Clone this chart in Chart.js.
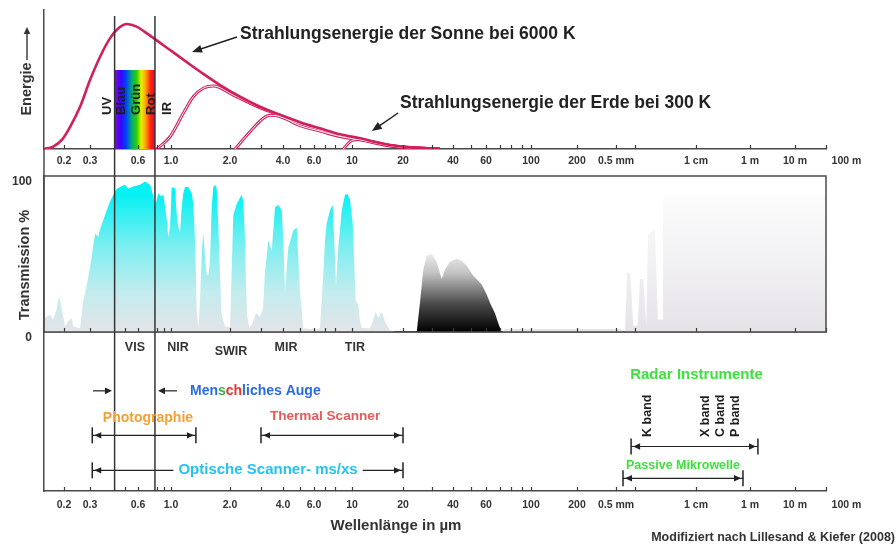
<!DOCTYPE html>
<html>
<head>
<meta charset="utf-8">
<script src="https://cdn.jsdelivr.net/npm/chart.js@4.4.1/dist/chart.umd.min.js"></script>
<style>
html,body{margin:0;padding:0;background:#fff;width:896px;height:544px;overflow:hidden}
#wrap{position:relative;width:896px;height:544px}
canvas{position:absolute;left:0;top:0}
</style>
</head>
<body>
<div id="wrap">
<canvas id="cT" width="896" height="544"></canvas>
<canvas id="cE" width="896" height="544"></canvas>
<canvas id="cB" width="896" height="544"></canvas>
</div>
<script>
// ================= DATA =================
// Non-uniform wavelength axis (µm) of the original figure: break wavelengths and their relative axis positions
const AXIS_WL  = [0.145, 0.2, 0.3, 0.6, 1, 2, 4, 6, 10, 20, 40, 60, 100, 200, 500, 1e4, 1e6, 1e7, 1e8];
const AXIS_POS = [0, 20, 46, 94, 127, 186, 239, 270, 308, 359, 409, 442, 487, 533, 572, 652, 706, 751, 782];

// tick values (µm) and labels
const TICK_WL     = [0.2, 0.3, 0.6, 1, 2, 4, 6, 10, 20, 40, 60, 100, 200, 500, 1e4, 1e6, 1e7, 1e8];
const TICK_LABELS = ['0.2','0.3','0.6','1.0','2.0','4.0','6.0','10','20','40','60','100','200','0.5 mm','1 cm','1 m','10 m','\u2007\u2007\u2007\u2007\u2007\u2007\u2007100 m'];
const MINOR_TICK_WL = [0.5, 0.8, 0.9, 3, 5, 7, 8, 30, 50, 70, 80, 90, 1000];

// Radiant energy curves (relative energy)
const SUN_WL = [0.145,0.168,0.193,0.22,0.257,0.3,0.347,0.4,0.452,0.51,0.589,0.687,0.723,0.985,1.25,1.41,1.78,2.28,2.96,3.85,5.0,6.5,8.51,11.2,12.8,16.8,22.0,29.1,33.4];
const SUN_E  = [0,1.7,6.5,16,30.4,49.6,66.4,79.6,86.8,89.9,88,83.2,81.6,71.2,60.8,55.6,46,37.6,30.4,24.6,19.3,14.9,10.6,7.7,6,2.9,1.2,0.5,0];
const CURVE2_WL = [0.8015,0.985,1.155,1.299,1.461,1.644,2.088,2.713,3.524,4.995,6.504,8.51,11.15,16.76,22.03,29.08,33.4];
const CURVE2_E  = [0,8.8,25.7,37.6,43.7,45.3,38.8,31.8,25.8,18.1,13.9,9.8,7.1,2.5,1,0.3,0];
const CURVE3_WL = [2.135,2.598,3.092,3.375,3.846,4.995,6.504,8.51,11.15,16.76,22.03,29.08,33.4];
const CURVE3_E  = [0,12.4,22.1,24.2,23.3,16.8,12.9,9.0,6.6,2.2,0.8,0.2,0];
const CURVE4_WL = [8.898,9.734,10.18,11.15,12.77,16.76,22.03,29.08,33.4];
const CURVE4_E  = [0,5.3,6.5,6.9,5.5,2.6,1.0,0.3,0];

// visible range (µm) and colour bands
const EYE_RANGE = [0.428, 0.78];
const BAND_LABELS = ['UV','Blau','Grün','Rot','IR'];
const BAND_WL     = [0.384, 0.469, 0.583, 0.734, 0.94];

// atmospheric transmission (%)
const TRANS_WL  = [0.147,0.160,0.168,0.178,0.185,0.193,0.203,0.214,0.226,0.231,0.257,0.270,0.285,0.300,0.315,0.323,0.338,0.347,0.364,0.382,0.400,0.420,0.441,0.463,0.497,0.522,0.561,0.619,0.669,0.723,0.761,0.781,0.802,0.821,0.853,0.888,0.911,0.936,0.959,0.985,1.008,1.027,1.048,1.069,1.090,1.112,1.134,1.155,1.179,1.225,1.275,1.299,1.326,1.352,1.378,1.406,1.434,1.461,1.491,1.521,1.550,1.581,1.613,1.644,1.677,1.711,1.743,1.778,1.814,1.886,2.000,2.045,2.088,2.183,2.279,2.331,2.380,2.434,2.466,2.508,2.574,2.667,2.810,2.961,3.080,3.162,3.301,3.451,3.603,3.762,3.933,4.016,4.106,4.287,4.577,4.785,4.887,4.995,5.216,5.692,6.331,6.504,6.798,6.956,7.117,7.439,7.715,7.904,8.065,8.318,8.709,9.101,9.413,9.734,10.10,10.28,10.51,10.89,11.15,11.46,12.77,13.36,13.80,14.30,14.97,15.66,16.76,17.94];
const TRANS_PCT = [9,11,8,15,23,15,3.5,7,9,3.5,2.4,20,30,41,56,63,61,66,72,78,83.5,88,91.6,93,94.4,92,93.3,94.4,96.5,94.4,87,80,85,89,87,88,81,72,61,67,92,93,92,76,67,64,80,89,93,93,89,82.5,58.6,15,2.4,20,50,64,48,37,36,46,80,93,94.4,92,69.5,37,11,3.5,3,40,75,82,86,88,84,60,30,10,2.4,5,12,10,15,39,58.6,52,80,81.4,78,58.6,26,54,65,67,48,26,2.4,2,2,2.4,37,58.6,69.5,78,81.4,55,30,54,78,88,88.5,84.6,69.5,48,20,17.5,6.7,2.6,2.4,7.8,13,9,13,6.7,1.3,0];
const BLACK_WL  = [24.18,25.32,26.50,27.78,29.77,31.90,34.20,35.80,38.37,41.86,44.51,47.33,51.33,56.92,60.48,62.81,66.45,69.0,71.7];
const BLACK_PCT = [0,19,40,49,50,45,34,40,45,47,45.6,42.4,36,30.5,24,18.6,12,5.6,0];
const RADIO_WL  = [72,74.4,581,700,755,860,950,1130,1228,1400,1550,1657,2154,2400,2906,2906,1e8];
const RADIO_PCT = [0,2,2,0,38,38,4,4,34,34,4,62,66,8,8,88,88];

// spectral regions
const REGION_LABELS = ['VIS','NIR','SWIR','MIR','TIR'];
const REGION_WL     = [0.574, 1.086, 2.026, 4.16, 10.4];

// sensor systems: wavelength ranges (µm)
const INSTR_NAMES = ['Photographie','Thermal Scanner','Optische Scanner- ms/xs','Radar Instrumente','Passive Mikrowelle'];
const INSTR_FROM  = [0.31, 3.0, 0.31, 880, 650];
const INSTR_TO    = [1.34, 20, 20, 1.5e6, 5.5e5];
const RADAR_BANDS   = ['K band','X band','C band','P band'];
const RADAR_BAND_WL = [1600, 23500, 84000, 280000];

// ================= LAYOUT / STYLE =================
const LAYOUT = { left:44, right:826, W:896, H:544,
  energy:{top:10, bottom:149}, trans:{top:176, bottom:332}, instr:{top:332, bottom:491} };
const FONT = '"Liberation Sans", Arial, Helvetica, sans-serif';
const f = (s) => `bold ${s}px ${FONT}`;
const CRIMSON = '#d11f5d';
const AXIS_COLOR = '#4a4a4a';
const EYE_TOP_E = 95.7;
const SPECTRUM_TOP_E = 56.8;
const BAND_BASE_E = 24.5;
const SUN_NOTE = {text:'Strahlungsenergie der Sonne bei 6000 K', at:[2.28,82.7], arrow:[[2.19,80.6],[1.28,69.8]]};
const EARTH_NOTE = {text:'Strahlungsenergie der Erde bei 300 K', at:[19.2,33.1], arrow:[[18.7,25.9],[13.1,12.9]]};
const REGION_ROW = [90, 90, 88, 90, 90];
const AUGE = {row:63, textAt:1.25, arrows:[[0.313,0.412],[1.073,0.818]],
  parts:[['Men','#2b6ae6'],['s','#36b04a'],['ch','#e5352f'],['liches Auge','#2b6ae6']]};
const INSTR_STYLE = [
  {row:35, at:[0.70,46],    color:'#f5a033', size:14},
  {row:35, at:[6.96,47.2],  color:'#e8595c', size:13.6},
  {row:13, at:[3.29,13.2],  color:'#22c4ec', size:15, bg:true},
  {row:28, at:[1.04e4,73],  color:'#3ee03e', size:15},
  {row:8,  at:[6144,15.7],  color:'#3ee03e', size:12.5}
];
const RADAR_BAND_BASE = 34;
const TITLES = {
  energy:{text:'Energie', x:27, y:89, arrowFrom:60, arrowTo:27},
  trans:{text:'Transmission %', x:25, y:265},
  wave:{text:'Wellenlänge in µm', x:396, y:526},
  credit:{text:'Modifiziert nach Lillesand & Kiefer (2008)', x:895, y:538}
};

// ================= WARPED WAVELENGTH SCALE =================
const LOG_AX = AXIS_WL.map(Math.log10);
function warp(v){
  const l = Math.log10(v); let i = 0;
  while (i < LOG_AX.length - 2 && l > LOG_AX[i+1]) i++;
  const t = (l - LOG_AX[i]) / (LOG_AX[i+1] - LOG_AX[i]);
  return AXIS_POS[i] + t * (AXIS_POS[i+1] - AXIS_POS[i]);
}
function unwarp(p){
  let i = 0;
  while (i < AXIS_POS.length - 2 && p > AXIS_POS[i+1]) i++;
  const t = (p - AXIS_POS[i]) / (AXIS_POS[i+1] - AXIS_POS[i]);
  return Math.pow(10, LOG_AX[i] + t * (LOG_AX[i+1] - LOG_AX[i]));
}
const LinearScale = Chart.LinearScale || Chart.registry.getScale('linear');
class WarpScale extends LinearScale {
  determineDataLimits(){ this.min = this.options.min; this.max = this.options.max; }
  buildTicks(){ return TICK_WL.map(v => ({value: v})); }
  getPixelForValue(v){
    const a = warp(this.min), b = warp(this.max);
    return this.getPixelForDecimal((warp(v) - a) / (b - a));
  }
  getValueForPixel(p){
    const a = warp(this.min), b = warp(this.max);
    return unwarp(a + this.getDecimalForPixel(p) * (b - a));
  }
}
WarpScale.id = 'warp';
WarpScale.defaults = LinearScale.defaults;
Chart.register(WarpScale);

Chart.defaults.font.family = FONT;
Chart.defaults.color = '#333';

// ================= HELPERS =================
const pts = (xs, ys) => xs.map((x, i) => ({x, y: ys[i]}));
const fin = (...a) => a.every(Number.isFinite);
function seg(ctx, x1, y1, x2, y2, color, w){ ctx.strokeStyle = color; ctx.lineWidth = w; ctx.beginPath(); ctx.moveTo(x1, y1); ctx.lineTo(x2, y2); ctx.stroke(); }
function head(ctx, x, y, ang, len, hw, color){
  ctx.fillStyle = color; ctx.beginPath(); ctx.moveTo(x, y);
  ctx.lineTo(x - len*Math.cos(ang) + hw*Math.sin(ang), y - len*Math.sin(ang) - hw*Math.cos(ang));
  ctx.lineTo(x - len*Math.cos(ang) - hw*Math.sin(ang), y - len*Math.sin(ang) + hw*Math.cos(ang));
  ctx.closePath(); ctx.fill();
}
function arrow(ctx, x1, y1, x2, y2, len, hw, color, w){
  const a = Math.atan2(y2 - y1, x2 - x1);
  seg(ctx, x1, y1, x2 - Math.cos(a)*len*0.6, y2 - Math.sin(a)*len*0.6, color, w);
  head(ctx, x2, y2, a, len, hw, color);
}
function text(ctx, s, x, y, font, color, align, baseline){
  ctx.font = font; ctx.fillStyle = color; ctx.textAlign = align || 'left'; ctx.textBaseline = baseline || 'middle';
  ctx.fillText(s, x, y);
}
function vtext(ctx, s, x, y, font, color, align){
  ctx.save(); ctx.translate(x, y); ctx.rotate(-Math.PI/2);
  text(ctx, s, 0, 0, font, color, align || 'center', 'middle'); ctx.restore();
}
function upTicks(ctx, X, y){
  ctx.strokeStyle = '#3a3a3a'; ctx.lineWidth = 1.2;
  for (const v of TICK_WL.concat(MINOR_TICK_WL)){
    const x = Math.round(X(v)) + 0.5;
    ctx.beginPath(); ctx.moveTo(x, y); ctx.lineTo(x, y - 4); ctx.stroke();
  }
}
const common = {
  responsive:false, animation:false, events:[],
  plugins:{legend:{display:false}, tooltip:{enabled:false}},
  elements:{point:{radius:0, hoverRadius:0}}
};
function xAxis(extra){
  return Object.assign({type:'warp', min:AXIS_WL[0], max:AXIS_WL[AXIS_WL.length-1],
    grid:{display:false, drawTicks:false},
    border:{display:true, color:AXIS_COLOR, width:1.5},
    ticks:{autoSkip:false, maxRotation:0, minRotation:0, padding:6, color:'#333',
      font:{size:10.5, weight:'bold'}, callback:(v, i) => TICK_LABELS[i]}}, extra);
}

// ================= ENERGY PANEL =================
function rainbow(c){
  const ch = c.chart, ca = ch.chartArea, xs = ch.scales.x;
  if (!ca || !xs) return '#f00';
  const x0 = xs.getPixelForValue(EYE_RANGE[0]), x1 = xs.getPixelForValue(EYE_RANGE[1]);
  if (!fin(x0, x1)) return '#f00';
  const g = ch.ctx.createLinearGradient(x0, 0, x1, 0);
  g.addColorStop(0, '#8a10d0'); g.addColorStop(0.14, '#3a00ff'); g.addColorStop(0.28, '#0040ff');
  g.addColorStop(0.42, '#00a878'); g.addColorStop(0.55, '#30d000'); g.addColorStop(0.66, '#e8f000');
  g.addColorStop(0.77, '#ffa000'); g.addColorStop(0.88, '#ff2a00'); g.addColorStop(1, '#e0005a');
  return g;
}
const curveBase = {fill:false, pointRadius:0, cubicInterpolationMode:'monotone'};
const energyPlugin = {
  id:'energyDeco',
  afterDatasetsDraw(chart){
    const {ctx, chartArea:ca} = chart;
    const X = v => chart.scales.x.getPixelForValue(v), Y = v => chart.scales.y.getPixelForValue(v);
    ctx.save();
    upTicks(ctx, X, ca.bottom);
    seg(ctx, ca.left, ca.bottom, ca.left, LAYOUT.trans.top, AXIS_COLOR, 1.5);
    for (const w of EYE_RANGE) seg(ctx, X(w), Y(EYE_TOP_E), X(w), LAYOUT.trans.top, '#333', 1.5);
    BAND_LABELS.forEach((s, i) => vtext(ctx, s, X(BAND_WL[i]), Y(BAND_BASE_E), f(13), '#1e1e1e', 'left'));
    for (const n of [SUN_NOTE, EARTH_NOTE]){
      text(ctx, n.text, X(n.at[0]), Y(n.at[1]), f(17.5), '#222', 'left', 'middle');
      const [[a1, b1], [a2, b2]] = n.arrow;
      arrow(ctx, X(a1), Y(b1), X(a2), Y(b2), 10, 4, '#222', 1.5);
    }
    const t = TITLES.energy;
    vtext(ctx, t.text, t.x, t.y, f(14.5), '#333', 'center');
    arrow(ctx, t.x, t.arrowFrom, t.x, t.arrowTo, 7, 3.3, '#333', 1.4);
    ctx.restore();
  }
};
new Chart(document.getElementById('cE'), {
  type:'line',
  data:{datasets:[
    Object.assign({data:pts(SUN_WL, SUN_E), borderColor:CRIMSON, borderWidth:2.6}, curveBase),
    Object.assign({data:pts(CURVE2_WL, CURVE2_E), borderColor:'#ffffff', borderWidth:1}, curveBase),
    Object.assign({data:pts(CURVE3_WL, CURVE3_E), borderColor:'#ffffff', borderWidth:1}, curveBase),
    Object.assign({data:pts(CURVE4_WL, CURVE4_E), borderColor:'#ffffff', borderWidth:1}, curveBase),
    Object.assign({data:pts(CURVE2_WL, CURVE2_E), borderColor:CRIMSON, borderWidth:3}, curveBase),
    Object.assign({data:pts(CURVE3_WL, CURVE3_E), borderColor:CRIMSON, borderWidth:3}, curveBase),
    Object.assign({data:pts(CURVE4_WL, CURVE4_E), borderColor:CRIMSON, borderWidth:3}, curveBase),
    {data:pts([EYE_RANGE[0], EYE_RANGE[0], EYE_RANGE[1], EYE_RANGE[1]], [0, SPECTRUM_TOP_E, SPECTRUM_TOP_E, 0]),
     borderWidth:0, pointRadius:0, fill:'origin', backgroundColor:rainbow, tension:0}
  ]},
  options:Object.assign({}, common, {
    layout:{padding:{left:14, right:LAYOUT.W - LAYOUT.right, top:LAYOUT.energy.top, bottom:LAYOUT.H - LAYOUT.energy.bottom - 20}},
    scales:{
      x:xAxis({afterFit:s => { s.height = 20; }}),
      y:{min:0, max:100, afterFit:s => { s.width = 30; },
         grid:{display:false, drawTicks:false}, ticks:{display:false},
         border:{display:true, color:AXIS_COLOR, width:1.5}}
    }
  }),
  plugins:[energyPlugin]
});

// ================= TRANSMISSION PANEL =================
function vGrad(c, stops){
  const ch = c.chart, ca = ch.chartArea;
  if (!ca || !fin(ca.top, ca.bottom)) return stops[stops.length-1][1];
  const g = ch.ctx.createLinearGradient(0, ca.top, 0, ca.bottom);
  for (const [o, col] of stops) g.addColorStop(o, col);
  return g;
}
const cyanFill  = c => vGrad(c, [[0,'#00f2f4'],[0.12,'#06f1f3'],[0.45,'#7ceef0'],[0.75,'#c4ecee'],[1,'#e3e4e8']]);
const blackFill = c => vGrad(c, [[0,'#ffffff'],[0.45,'#fafafa'],[0.62,'#c4c4c4'],[0.82,'#4a4a4a'],[1,'#000000']]);
const radioFill = c => vGrad(c, [[0,'#ffffff'],[0.1,'#fdfdfd'],[0.55,'#f1f0f2'],[1,'#e5e3e8']]);
const transPlugin = {
  id:'transDeco',
  afterDatasetsDraw(chart){
    const {ctx, chartArea:ca} = chart;
    const X = v => chart.scales.x.getPixelForValue(v);
    ctx.save();
    upTicks(ctx, X, ca.bottom);
    for (const w of EYE_RANGE) seg(ctx, X(w), ca.top, X(w), ca.bottom, '#333', 1.5);
    ctx.strokeStyle = AXIS_COLOR; ctx.lineWidth = 1.5;
    ctx.strokeRect(ca.left, ca.top, ca.right - ca.left, ca.bottom - ca.top);
    const t = TITLES.trans;
    vtext(ctx, t.text, t.x, t.y, f(14.5), '#333', 'center');
    ctx.restore();
  }
};
const areaBase = {borderWidth:0, pointRadius:0, fill:'origin', tension:0};
new Chart(document.getElementById('cT'), {
  type:'line',
  data:{datasets:[
    Object.assign({data:pts(TRANS_WL, TRANS_PCT), backgroundColor:cyanFill}, areaBase),
    Object.assign({data:pts(BLACK_WL, BLACK_PCT), backgroundColor:blackFill}, areaBase),
    Object.assign({data:pts(RADIO_WL, RADIO_PCT), backgroundColor:radioFill}, areaBase)
  ]},
  options:Object.assign({}, common, {
    layout:{padding:{left:10, right:LAYOUT.W - LAYOUT.right, top:LAYOUT.trans.top, bottom:LAYOUT.H - LAYOUT.trans.bottom}},
    scales:{
      x:xAxis({afterFit:s => { s.height = 0; }, ticks:{display:false}}),
      y:{min:0, max:100, afterFit:s => { s.width = 34; },
         afterBuildTicks:s => { s.ticks = [{value:0}, {value:100}]; },
         grid:{display:false, drawTicks:false},
         ticks:{padding:12, labelOffset:6, color:'#333', font:{size:12, weight:'bold'}},
         border:{display:true, color:AXIS_COLOR, width:1.5}}
    }
  }),
  plugins:[transPlugin]
});

// ================= SENSOR PANEL =================
const instrPlugin = {
  id:'instrDeco',
  afterDatasetsDraw(chart){
    const {ctx, chartArea:ca} = chart;
    const X = v => chart.scales.x.getPixelForValue(v), Y = v => chart.scales.y.getPixelForValue(v);
    ctx.save();
    upTicks(ctx, X, ca.bottom);
    for (const w of EYE_RANGE) seg(ctx, X(w), ca.top, X(w), ca.bottom, '#333', 1.5);
    REGION_LABELS.forEach((s, i) => text(ctx, s, X(REGION_WL[i]), Y(REGION_ROW[i]), f(12.5), '#333', 'center'));
    for (const [a, b] of AUGE.arrows) arrow(ctx, X(a), Y(AUGE.row), X(b), Y(AUGE.row), 7, 3.3, '#222', 1.2);
    let x = X(AUGE.textAt);
    for (const [s, c] of AUGE.parts){ text(ctx, s, x, Y(AUGE.row), f(14), c, 'left'); x += ctx.measureText(s).width; }
    INSTR_NAMES.forEach((name, i) => {
      const st = INSTR_STYLE[i], y = Y(st.row), x1 = X(INSTR_FROM[i]), x2 = X(INSTR_TO[i]);
      seg(ctx, x1, y - 8, x1, y + 8, '#222', 1.5);
      seg(ctx, x2, y - 8, x2, y + 8, '#222', 1.5);
      head(ctx, x1 + 2, y, Math.PI, 7, 3.2, '#222');
      head(ctx, x2 - 2, y, 0, 7, 3.2, '#222');
      const tx = X(st.at[0]), ty = Y(st.at[1]);
      ctx.font = f(st.size);
      if (st.bg){ const w = ctx.measureText(name).width; ctx.fillStyle = '#fff'; ctx.fillRect(tx - w/2 - 5, ty - 9, w + 10, 18); }
      text(ctx, name, tx, ty, f(st.size), st.color, 'center');
    });
    RADAR_BANDS.forEach((s, i) => vtext(ctx, s, X(RADAR_BAND_WL[i]), Y(RADAR_BAND_BASE), f(12.5), '#1e1e1e', 'left'));
    text(ctx, TITLES.wave.text, TITLES.wave.x, TITLES.wave.y, f(15), '#333', 'center');
    text(ctx, TITLES.credit.text, TITLES.credit.x, TITLES.credit.y, f(12.5), '#333', 'right');
    ctx.restore();
  }
};
new Chart(document.getElementById('cB'), {
  type:'line',
  data:{datasets:INSTR_FROM.map((a, i) => ({
    data:[{x:a, y:INSTR_STYLE[i].row}, {x:INSTR_TO[i], y:INSTR_STYLE[i].row}],
    borderColor:'#222', borderWidth:1.2, pointRadius:0, fill:false, tension:0}))},
  options:Object.assign({}, common, {
    layout:{padding:{left:LAYOUT.left, right:LAYOUT.W - LAYOUT.right, top:LAYOUT.instr.top, bottom:LAYOUT.H - LAYOUT.instr.bottom - 20}},
    scales:{
      x:xAxis({afterFit:s => { s.height = 20; }, ticks:{autoSkip:false, maxRotation:0, minRotation:0, padding:8, color:'#333',
        font:{size:10.5, weight:'bold'}, callback:(v, i) => TICK_LABELS[i]}}),
      y:{min:0, max:100, afterFit:s => { s.width = 0; },
         grid:{display:false, drawTicks:false}, ticks:{display:false},
         border:{display:true, color:AXIS_COLOR, width:1.5}}
    }
  }),
  plugins:[instrPlugin]
});
</script>
</body>
</html>
